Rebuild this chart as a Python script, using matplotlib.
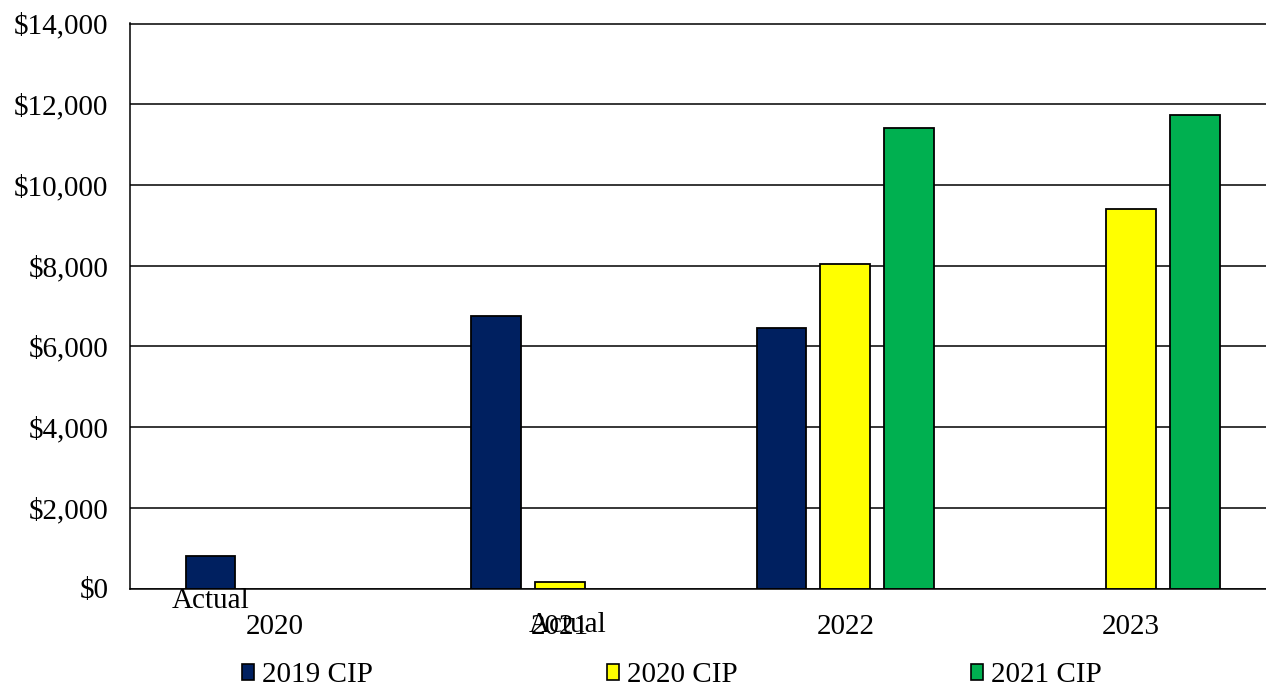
import numpy as np
import matplotlib
matplotlib.use("Agg")
import matplotlib.pyplot as plt
from matplotlib.patches import Patch
from matplotlib.ticker import FuncFormatter

plt.rcParams['font.family'] = ['Liberation Serif', 'DejaVu Serif']

categories = ["2020", "2021", "2022", "2023"]
series_names = ["2019 CIP", "2020 CIP", "2021 CIP"]
cip_2019 = [810, 6750, 6450, np.nan]
cip_2020 = [np.nan, 160, 8040, 9400]
cip_2021 = [np.nan, np.nan, 11410, 11730]
colors = ["#002060", "#FFFF00", "#00B050"]
actual_labels = ["Actual", "Actual"]

fig = plt.figure(figsize=(12.66, 6.88), dpi=100)
ax = fig.add_axes([130/1266, 1-588.5/688, 1136/1266, 565/688])

x = np.arange(len(categories))
width = 0.175
step = 0.224
for i, (vals, col) in enumerate(zip([cip_2019, cip_2020, cip_2021], colors)):
    ax.bar(x + (i-1)*step, vals, width, color=col, edgecolor='black', linewidth=1.3, zorder=3)

ax.set_xlim(-0.506, 3.473)
ax.set_ylim(0, 14000)
ax.set_yticks(np.arange(0, 14001, 2000))
ax.yaxis.set_major_formatter(FuncFormatter(lambda v, p: f"${v:,.0f}"))
ax.set_xticks(x)
ax.set_xticklabels(categories)
ax.tick_params(axis='both', length=0, labelsize=21)
ax.tick_params(axis='y', pad=15.5)
ax.tick_params(axis='x', pad=18)
ax.yaxis.grid(True, color='black', linewidth=1.1, zorder=0)
ax.set_axisbelow(True)
ax.spines['right'].set_visible(False)
for s in ['left', 'bottom', 'top']:
    ax.spines[s].set_linewidth(1.1)
    ax.spines[s].set_zorder(4)

# "Actual" sub-labels
ax.text(0 - step, -0.0, actual_labels[0], transform=ax.get_xaxis_transform(),
        ha='center', va='top', fontsize=21)
ax.text(1 + 0.025, -0.042, actual_labels[1], transform=ax.get_xaxis_transform(),
        ha='center', va='top', fontsize=21)

handles = [Patch(facecolor=c, edgecolor='black', linewidth=1.2) for c in colors]
fig.legend(handles, series_names, loc='center', bbox_to_anchor=(672/1266, 1-675/688),
           ncol=3, frameon=False, fontsize=21, handlelength=0.42, handleheight=0.48,
           handletextpad=0.28, columnspacing=8.0, borderaxespad=0, borderpad=0)

fig.savefig("out.png", dpi=100)
